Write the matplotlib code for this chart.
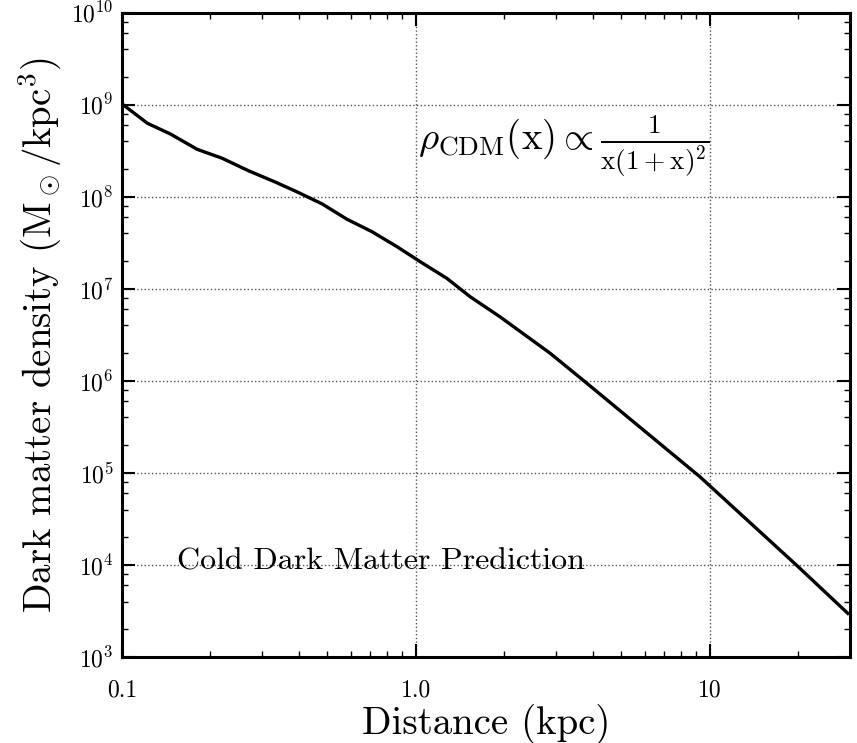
import matplotlib
matplotlib.use('Agg')
import matplotlib.pyplot as plt
from matplotlib.ticker import LogLocator, FixedLocator, FixedFormatter, NullFormatter

plt.rcParams['font.family'] = 'serif'
plt.rcParams['font.serif'] = ['cmr10']
plt.rcParams['mathtext.fontset'] = 'cm'
plt.rcParams['axes.formatter.use_mathtext'] = True

####### data
distance = [0.100, 0.122, 0.146, 0.180, 0.219, 0.270, 0.333, 0.394, 0.480,
            0.583, 0.709, 0.862, 1.034, 1.274, 1.53, 1.93, 2.86, 3.76,
            9.25, 19.7, 29.5]
density = [1.02e9, 6.28e8, 4.81e8, 3.28e8, 2.62e8, 1.91e8, 1.44e8, 1.13e8, 8.35e7,
           5.69e7, 4.17e7, 2.87e7, 1.97e7, 1.30e7, 8.2e6, 4.98e6, 2.0e6, 9.8e5,
           9.1e4, 1.0e4, 2.98e3]
x_ticks = [0.1, 1.0, 10]
x_tick_labels = ['0.1', '1.0', '10']

fig = plt.figure(figsize=(8.57, 7.43), dpi=100)
ax = fig.add_axes([0.1424, 0.1157, 0.8494, 0.8673])

ax.plot(distance, density, color='black', lw=2.4)
ax.set_xscale('log')
ax.set_yscale('log')
ax.set_xlim(0.1, 30)
ax.set_ylim(1e3, 1e10)

ax.xaxis.set_major_locator(FixedLocator(x_ticks))
ax.xaxis.set_major_formatter(FixedFormatter(x_tick_labels))
ax.xaxis.set_minor_locator(LogLocator(base=10, subs=range(2, 10)))
ax.xaxis.set_minor_formatter(NullFormatter())
ax.yaxis.set_major_locator(LogLocator(base=10, numticks=20))
ax.yaxis.set_minor_locator(LogLocator(base=10, subs=(2, 4, 6, 8), numticks=20))
ax.yaxis.set_minor_formatter(NullFormatter())

ax.tick_params(which='both', direction='in', top=True, right=True, labelsize=17)
ax.tick_params(which='major', length=9.5, width=1.5, pad=6)
ax.tick_params(axis='x', which='major', pad=16)
ax.tick_params(which='minor', length=4.5, width=1)
for s in ax.spines.values():
    s.set_linewidth(2.2)

ax.grid(True, which='major', ls=':', color='#555555', lw=1)

ax.set_xlabel('Distance (kpc)', fontsize=28, labelpad=2)
ax.set_ylabel(r'Dark matter density $(\mathrm{M_\odot/kpc^3})$', fontsize=28, labelpad=5)

ax.text(0.154, 1.07e4, 'Cold Dark Matter Prediction', fontsize=23, va='center', ha='left')
ax.text(1.02, 3.6e8, r'$\rho_{\rm CDM}(\mathrm{x}) \propto \frac{1}{\mathrm{x}(1+\mathrm{x})^2}$',
        fontsize=28, va='center', ha='left')

plt.savefig('out.png', dpi=100)
